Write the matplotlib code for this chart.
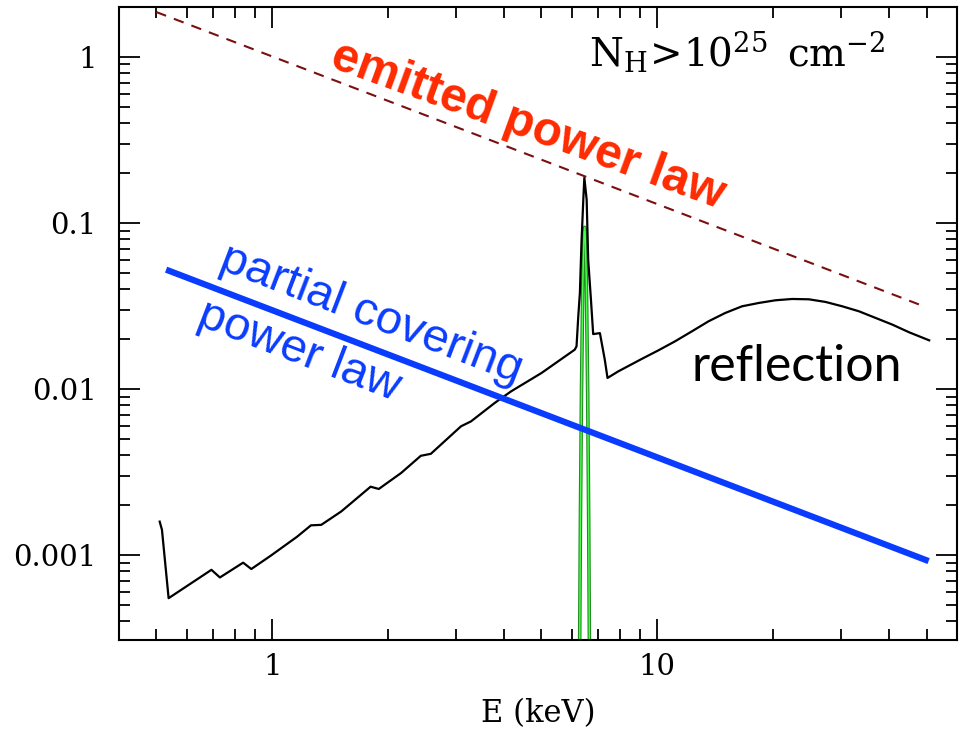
import matplotlib
matplotlib.use('Agg')
import matplotlib.pyplot as plt
from matplotlib.ticker import FixedLocator, FixedFormatter, LogLocator, NullFormatter

# ---------------- data ----------------
emitted_E = [0.5, 50.0]
emitted_F = [1.86, 0.031]

partial_E = [0.53, 50.6]
partial_F = [0.0523, 9.2e-4]

refl_E = [0.51, 0.517, 0.538, 0.695, 0.731, 0.84, 0.882, 0.99, 1.16, 1.26, 1.34,
          1.51, 1.80, 1.89, 2.16, 2.43, 2.58, 3.09, 3.28, 3.78, 4.17, 5.0, 6.1,
          6.165, 6.23, 6.29, 6.35, 6.42, 6.46, 6.55, 6.61, 6.72, 6.81, 7.09, 7.30,
          7.42, 7.91, 9.10, 10.06, 11.11, 12.29, 13.57, 15.0, 16.58, 18.32, 20.25,
          22.38, 24.73, 27.33, 30.2, 33.38, 36.88, 40.75, 45.04, 50.77]
refl_F = [1.59e-3, 1.42e-3, 5.5e-4, 8.15e-4, 7.33e-4, 9.0e-4, 8.24e-4, 9.9e-4, 1.29e-3,
          1.51e-3, 1.52e-3, 1.83e-3, 2.58e-3, 2.5e-3, 3.12e-3, 3.96e-3, 4.07e-3, 5.96e-3,
          6.38e-3, 8.24e-3, 9.68e-3, 1.248e-2, 1.725e-2, 1.806e-2, 2.74e-2, 3.79e-2,
          7.58e-2, 0.138, 0.187, 0.138, 0.0601, 0.0345, 0.0214, 0.0217, 0.015, 0.01165,
          0.01276, 0.01516, 0.01709, 0.01936, 0.02224, 0.02555, 0.02869, 0.03146,
          0.03295, 0.0342, 0.03483, 0.03467, 0.03342, 0.03146, 0.02935, 0.02676,
          0.0244, 0.02194, 0.01963]

feline_E = [6.26, 6.31, 6.35, 6.40, 6.45, 6.47, 6.49, 6.54, 6.59, 6.63, 6.68]
feline_F = [8e-5, 1.6e-3, 9.4e-3, 0.043, 0.088, 0.094, 0.088, 0.043, 9.4e-3, 1.6e-3, 8e-5]

xtick_vals = [1, 10]
xtick_labels = ["1", "10"]
ytick_vals = [0.001, 0.01, 0.1, 1]
ytick_labels = ["0.001", "0.01", "0.1", "1"]

# ---------------- figure ----------------
plt.rcParams['mathtext.fontset'] = 'dejavuserif'
fig = plt.figure(figsize=(9.6, 7.34), dpi=100)
ax = fig.add_axes([0.124, 0.1287, 0.873, 0.862])
ax.set_xscale('log')
ax.set_yscale('log')

ax.plot(feline_E, feline_F, color='#1f8f1f', lw=2.6, zorder=2)
ax.plot(feline_E, feline_F, color='#4dff4d', lw=1.0, zorder=2.1)
ax.plot(refl_E, refl_F, color='black', lw=1.6, zorder=3)
ax.plot(partial_E, partial_F, color='#0a3cff', lw=4.5, solid_capstyle='butt', zorder=4)
ax.plot(emitted_E, emitted_F, color='#7a0f0f', lw=1.5, linestyle=(0, (5, 4)), zorder=5)

ax.set_xlim(0.4, 60)
ax.set_ylim(3.1e-4, 2.0)

ax.xaxis.set_major_locator(FixedLocator(xtick_vals))
ax.xaxis.set_major_formatter(FixedFormatter(xtick_labels))
ax.xaxis.set_minor_locator(LogLocator(base=10, subs=range(2, 10), numticks=20))
ax.xaxis.set_minor_formatter(NullFormatter())
ax.yaxis.set_major_locator(FixedLocator(ytick_vals))
ax.yaxis.set_major_formatter(FixedFormatter(ytick_labels))
ax.yaxis.set_minor_locator(LogLocator(base=10, subs=range(2, 10), numticks=20))
ax.yaxis.set_minor_formatter(NullFormatter())

ax.tick_params(which='both', direction='in', top=True, right=True, width=1.3,
               colors='black')
ax.tick_params(which='major', length=15)
ax.tick_params(which='minor', length=8)
ax.tick_params(axis='x', which='major', pad=10)
ax.tick_params(axis='y', which='major', pad=16)
for lab in ax.get_xticklabels() + ax.get_yticklabels():
    lab.set_fontfamily('DejaVu Serif')
    lab.set_fontsize(21)
for sp in ax.spines.values():
    sp.set_linewidth(1.5)

ax.set_xlabel('E (keV)', fontfamily='DejaVu Serif', fontsize=22, labelpad=12)

# ---------------- annotations ----------------
ax.text(1.50, 1.38, 'emitted power law', color='#ff2a00', fontsize=34.5,
        fontweight='bold', fontfamily='Liberation Sans', rotation=-20,
        rotation_mode='anchor', ha='left', va='top', zorder=6)
ax.text(0.774, 0.0827, 'partial covering\npower law', color='#0a3cff', fontsize=34,
        fontfamily='Liberation Sans', rotation=-21, rotation_mode='anchor',
        ha='left', va='top', multialignment='left', linespacing=1.48, zorder=6)
ax.text(23.0, 0.0111, 'reflection', color='black', fontsize=36,
        fontfamily='Lato', ha='center', va='baseline', zorder=6)
ax.text(6.66, 0.878, r'$\mathrm{N_H}\!>\!10^{25}\ \,\mathrm{cm}^{-2}$', color='black',
        fontsize=28, ha='left', va='baseline', zorder=6)

fig.savefig('out.png', dpi=100)
